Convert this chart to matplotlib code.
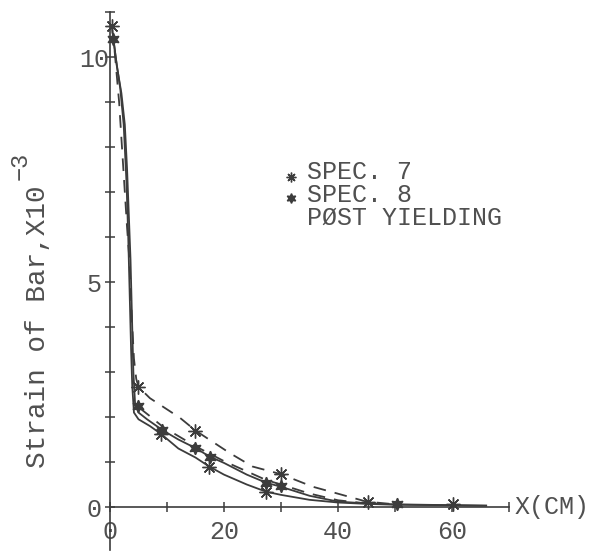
#!/usr/bin/env python3
"""Strain of bar vs distance X, specimens 7 and 8 (post yielding)."""

import matplotlib

matplotlib.use("Agg")
import matplotlib.pyplot as plt

# markers (X in cm, strain x 1e-3)
SPEC7_X = [0.3, 5.0, 9.0, 15.0, 17.4, 27.4, 30.0, 45.3, 60.2]
SPEC7_Y = [10.7, 2.67, 1.62, 1.70, 0.90, 0.34, 0.73, 0.11, 0.07]
SPEC8_X = [0.6, 5.0, 9.2, 15.0, 17.5, 27.4, 30.0, 50.4]
SPEC8_Y = [10.4, 2.24, 1.71, 1.31, 1.12, 0.54, 0.47, 0.07]

# curves
UPPER_X = [0.6, 1.2, 2.0, 2.6, 3.0, 3.3, 3.6, 3.9, 4.1, 4.4, 5.0, 6.5, 9.2,
           12.0, 15.0, 17.5, 20.0, 24.0, 27.4, 30.0, 35.0, 40.0, 45.0, 50.0,
           55.0, 60.0, 66.0]
UPPER_Y = [10.4, 9.8, 9.2, 8.5, 7.5, 6.5, 5.5, 4.0, 3.0, 2.3, 2.1, 1.95, 1.71,
           1.5, 1.31, 1.12, 0.98, 0.72, 0.54, 0.45, 0.25, 0.12, 0.08, 0.06,
           0.05, 0.04, 0.03]
LOWER_X = [0.3, 1.0, 1.8, 2.4, 2.9, 3.2, 3.5, 3.7, 3.9, 4.2, 5.0, 7.0, 9.0,
           12.0, 15.0, 17.4, 20.0, 24.0, 27.4, 30.0, 35.0, 40.0, 45.0, 50.0,
           60.0, 66.0]
LOWER_Y = [10.7, 10.0, 9.3, 8.5, 7.2, 6.0, 4.5, 3.5, 2.7, 2.1, 1.95, 1.8, 1.62,
           1.3, 1.1, 0.90, 0.72, 0.5, 0.34, 0.27, 0.16, 0.1, 0.07, 0.05,
           0.04, 0.03]
DASH1_X = [0.8, 1.6, 2.1, 2.6, 3.0, 3.4, 3.8, 4.2, 4.6, 5.0, 7.0, 12.3, 15.0,
           21.0, 25.0, 30.0, 35.6, 39.6, 45.0, 50.0]
DASH1_Y = [10.15, 9.0, 8.0, 7.0, 6.2, 5.5, 4.3, 3.3, 2.85, 2.67, 2.42, 1.98,
           1.7, 1.2, 0.9, 0.73, 0.45, 0.31, 0.12, 0.06]
DASH2_X = [5.2, 7.0, 9.3, 15.0, 20.0, 27.4, 30.0, 35.0, 40.0, 45.0]
DASH2_Y = [2.2, 2.02, 1.78, 1.35, 1.02, 0.6, 0.5, 0.3, 0.15, 0.08]

X_TICKS = [0, 10, 20, 30, 40, 50, 60, 70]
X_LABELS = ["0", "", "20", "", "40", "", "60", ""]
Y_TICKS = list(range(0, 12))
Y_LABELS = ["0", "", "", "", "", "5", "", "", "", "", "10", ""]

LEGEND = ["SPEC. 7", "SPEC. 8", "PØST YIELDING"]

INK = "#3c3c3c"
TEXT_INK = "#505050"
FONT = "Liberation Mono"


def main() -> None:
    plt.rcParams["font.family"] = [FONT, "DejaVu Sans Mono"]
    fig = plt.figure(figsize=(6.03, 5.52), dpi=100)
    ax = fig.add_axes([0, 0, 1, 1])
    ax.set_facecolor("none")
    ax.set_xlim(-19.3, 86.5)
    ax.set_ylim(-1.0, 11.27)

    for side in ("top", "right"):
        ax.spines[side].set_visible(False)
    ax.spines["left"].set_position(("data", 0))
    ax.spines["bottom"].set_position(("data", 0))
    ax.spines["left"].set_bounds(-0.95, 11)
    ax.spines["bottom"].set_bounds(0, 70)
    for side in ("left", "bottom"):
        ax.spines[side].set_color(INK)
        ax.spines[side].set_linewidth(1.2)

    ax.set_xticks(X_TICKS)
    ax.set_xticklabels(X_LABELS)
    ax.set_yticks(Y_TICKS)
    ax.set_yticklabels(Y_LABELS, ha="center")
    ax.tick_params(axis="both", direction="inout", length=7, width=1.1,
                   color=INK, labelcolor=TEXT_INK, labelsize=18)
    ax.tick_params(axis="x", pad=6)
    ax.tick_params(axis="y", pad=8)

    line_kw = dict(color=INK, lw=1.3)
    ax.plot(UPPER_X, UPPER_Y, **line_kw)
    ax.plot(LOWER_X, LOWER_Y, **line_kw)
    ax.plot(DASH1_X, DASH1_Y, ls=(0, (7, 5)), **line_kw)
    ax.plot(DASH2_X, DASH2_Y, ls=(0, (7, 5)), **line_kw)

    ax.plot(SPEC7_X, SPEC7_Y, ls="none", marker=(8, 2, 0), ms=10,
            mec=INK, mew=1.0)
    ax.plot(SPEC8_X, SPEC8_Y, ls="none", marker=(6, 1, 0), ms=9,
            color=INK, mec=INK)

    ax.text(71, 0, "X(CM)", ha="left", va="center", fontsize=18,
            color=TEXT_INK)

    # legend drawn by hand, the original has no frame and no line sample
    rows = [0.688, 0.647, 0.605]
    for text, y in zip(LEGEND, rows):
        ax.text(0.509, y, text, transform=ax.transAxes, ha="left",
                va="center", fontsize=18, color=TEXT_INK)
    ax.plot(0.4826, 0.679, transform=ax.transAxes, marker=(8, 2, 0), ms=7,
            mec=INK, mew=1.0)
    ax.plot(0.4826, 0.641, transform=ax.transAxes, marker=(6, 1, 0), ms=7,
            color=INK)

    fig.text(38 / 603, 1 - 468 / 552, "Strain of Bar,X10", rotation=90,
             rotation_mode="anchor", ha="left", va="center", fontsize=20,
             color=TEXT_INK)
    fig.text(20 / 603, 1 - 180 / 552, "\u22123", rotation=90,
             rotation_mode="anchor", ha="left", va="center", fontsize=17,
             color=TEXT_INK)

    fig.savefig("out.png", dpi=100)
    plt.close(fig)


if __name__ == "__main__":
    main()
